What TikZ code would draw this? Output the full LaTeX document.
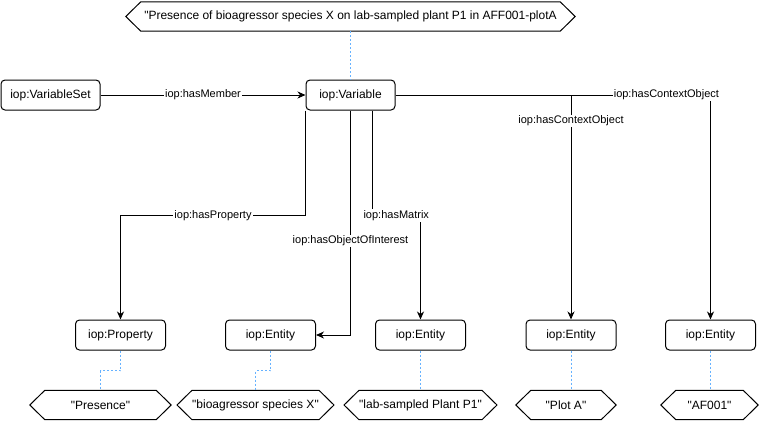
\documentclass[tikz,border=0pt]{standalone}
\usepackage{fontspec}
\setmainfont{Liberation Sans}[Ligatures=TeXOff]
\usetikzlibrary{arrows.meta,calc}
\definecolor{dotblue}{RGB}{102,178,255}
\tikzset{
  box/.style={draw, line width=1pt, rounded corners=4pt, minimum width=90pt, minimum height=30pt, inner sep=0pt, font=\fontsize{12}{14}\selectfont},
  hexbox/.style={minimum height=29pt, inner sep=0pt, font=\fontsize{12}{14}\selectfont},
  hexline/.style={line width=1pt},
  arr/.style={line width=1pt, -{Stealth[length=8pt,width=7pt,inset=2.5pt]}},
  lbl/.style={fill=white, inner sep=1pt, font=\fontsize{11}{13}\selectfont},
  dotln/.style={dotblue, line width=0.9pt, dash pattern=on 2pt off 2pt}
}
\newcommand\hexat[5]{%
  \node[hexbox, minimum width=#4pt] (#1) at (#2,#3) {#5};
  \draw[hexline] (#1.north west) -- (#1.north east) -- ([xshift=15pt]#1.east) -- (#1.south east) -- (#1.south west) -- ([xshift=-15pt]#1.west) -- cycle;}
\begin{document}
\begin{tikzpicture}[x=1pt,y=-1pt]
\useasboundingbox (0,0) rectangle (761,421);
% top label
\hexat{top}{350.5}{16.5}{419}{"Presence of bioagressor species X on lab-sampled plant P1 in AFF001-plotA}
% main boxes
\node[box, minimum width=99pt] (vs) at (50.5,95) {iop:VariableSet};
\node[box, minimum width=89pt] (var) at (350.5,95) {iop:Variable};
\node[box] (prop) at (120.5,335) {iop:Property};
\node[box] (ent1) at (270.5,335) {iop:Entity};
\node[box] (ent2) at (420.5,335) {iop:Entity};
\node[box] (ent3) at (571,335) {iop:Entity};
\node[box] (ent4) at (710.5,335) {iop:Entity};
% bottom labels
\hexat{h1}{100.5}{405}{111}{"Presence"}
\hexat{h2}{255.5}{405}{119}{"bioagressor species X"}
\hexat{h3}{420.5}{405}{115}{"lab-sampled Plant P1"}
\hexat{h4}{566}{405}{70}{"Plot A"}
\hexat{h5}{709.5}{405}{67}{"AF001"}
% dotted links
\draw[dotln] (top.south) -- (var.north);
\draw[dotln] (prop.south) -- ++(0,20) -| (h1.north);
\draw[dotln] (ent1.south) -- ++(0,20) -| (h2.north);
\draw[dotln] (ent2.south) -- (h3.north);
\draw[dotln] (ent3.south) -- (ent3.south |- h4.north);
\draw[dotln] (ent4.south) -- (ent4.south |- h5.north);
% relations
\draw[arr] (vs.east) -- node[lbl]{iop:hasMember} (var.west);
\draw[arr] (var.south west) -- ++(0,105) -| node[lbl,pos=0.25]{iop:hasProperty} (prop.north);
\draw[arr] (var.south) -- node[lbl,pos=0.58]{iop:hasObjectOfInterest} (var.south |- ent1.east) -- (ent1.east);
\draw[arr] ([xshift=21.5pt]var.south) -- ++(0,105) -| node[lbl,pos=0.25]{iop:hasMatrix} (ent2.north);
\draw[arr] (var.east) -| node[lbl,pos=0.558]{iop:hasContextObject} (ent3.north);
\draw[arr] (var.east) -| node[lbl,pos=0.43]{iop:hasContextObject} (ent4.north);
\end{tikzpicture}
\end{document}
